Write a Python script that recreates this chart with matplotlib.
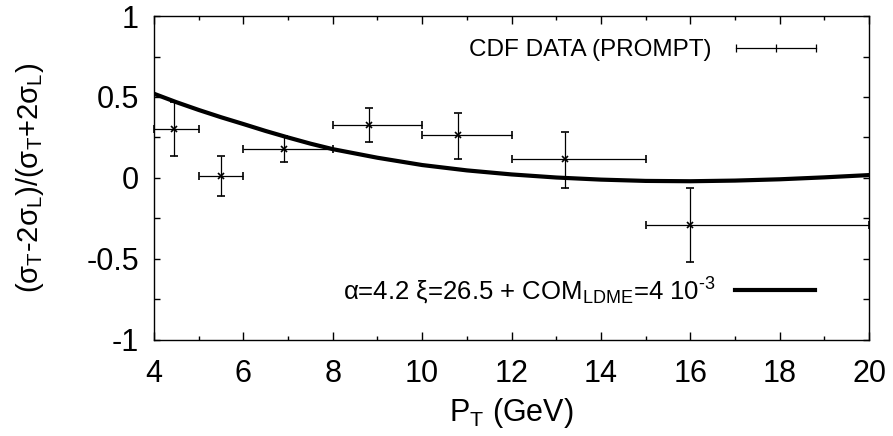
import numpy as np
import matplotlib
matplotlib.use("Agg")
import matplotlib.pyplot as plt
from matplotlib.ticker import MultipleLocator, FormatStrFormatter

plt.rcParams['font.family'] = ['Liberation Sans', 'DejaVu Sans']
plt.rcParams['mathtext.fontset'] = 'custom'
plt.rcParams['mathtext.rm'] = 'Liberation Sans'
plt.rcParams['mathtext.it'] = 'Liberation Sans'
plt.rcParams['mathtext.default'] = 'regular'

# CDF prompt data: pT bin centres, bin edges, value and errors
pt = [4.45, 5.5, 6.9, 8.8, 10.8, 13.2, 16.0]
pt_lo = [4.0, 5.0, 6.0, 8.0, 10.0, 12.0, 15.0]
pt_hi = [5.0, 6.0, 8.0, 10.0, 12.0, 15.0, 20.0]
lam = [0.30, 0.01, 0.18, 0.33, 0.265, 0.115, -0.29]
lam_up = [0.47, 0.135, 0.26, 0.43, 0.40, 0.285, -0.06]
lam_dn = [0.135, -0.11, 0.10, 0.225, 0.12, -0.06, -0.52]

# model curve (alpha=4.2, xi=26.5 + COM)
curve_pt = [4.0, 4.5, 5.0, 5.5, 6.0, 6.5, 7.0, 7.5, 8.0, 9.0, 10.0, 11.0, 12.0,
            13.0, 14.0, 15.0, 16.0, 17.0, 18.0, 19.0, 20.0]
curve_val = [0.52, 0.468, 0.42, 0.375, 0.333, 0.29, 0.25, 0.212, 0.178, 0.125,
             0.08, 0.047, 0.022, 0.003, -0.01, -0.018, -0.02, -0.016, -0.008,
             0.004, 0.018]

fig = plt.figure(figsize=(8.93, 4.36), dpi=100)
ax = fig.add_axes([0.1725, 0.2202, 0.8007, 0.7431])

pt_a = np.array(pt)
lam_a = np.array(lam)
xerr = [pt_a - np.array(pt_lo), np.array(pt_hi) - pt_a]
yerr = [lam_a - np.array(lam_dn), np.array(lam_up) - lam_a]

ax.errorbar(pt, lam, xerr=xerr, yerr=yerr, fmt='x', color='black', ms=5,
            mew=1.2, elinewidth=0.9, capsize=3, capthick=0.9, clip_on=False)
ax.plot(curve_pt, curve_val, color='black', lw=3.0)

ax.set_xlim(4, 20)
ax.set_ylim(-1, 1)
ax.xaxis.set_major_locator(MultipleLocator(2))
ax.xaxis.set_minor_locator(MultipleLocator(1))
ax.yaxis.set_major_locator(MultipleLocator(0.5))
ax.yaxis.set_minor_locator(MultipleLocator(0.25))
ax.yaxis.set_major_formatter(FormatStrFormatter('%g'))
ax.tick_params(which='both', direction='in', top=True, right=True,
               labelsize=22, width=1.0)
ax.tick_params(axis='x', which='major', length=6, pad=14)
ax.tick_params(axis='x', which='minor', length=3)
ax.tick_params(axis='y', which='both', length=4, pad=11)
for s in ax.spines.values():
    s.set_linewidth(1.0)

ax.set_xlabel('P$_T$ (GeV)', fontsize=22, labelpad=5)
ax.set_ylabel('(σ$_T$-2σ$_L$)/(σ$_T$+2σ$_L$)', fontsize=21, labelpad=29)

# gnuplot-style key entries
tr = ax.transAxes
ax.text(0.78, 0.895, 'CDF DATA (PROMPT)', transform=tr, ha='right',
        va='center', fontsize=17.5)
ax.plot([0.814, 0.926], [0.901, 0.901], transform=tr, color='black', lw=0.9)
ax.plot([0.814, 0.87, 0.926], [0.901, 0.901, 0.901], transform=tr, ls='none',
        marker='|', ms=6, mew=0.9, color='black')

ax.text(0.785, 0.15, r'α=4.2 ξ=26.5 + COM$_{LDME}$=4 10$^{\text{-}3}$',
        transform=tr, ha='right', va='center', fontsize=18.5)
ax.plot([0.8126, 0.9245], [0.154, 0.154], transform=tr, color='black', lw=3.0)

fig.savefig('out.png', dpi=100)
